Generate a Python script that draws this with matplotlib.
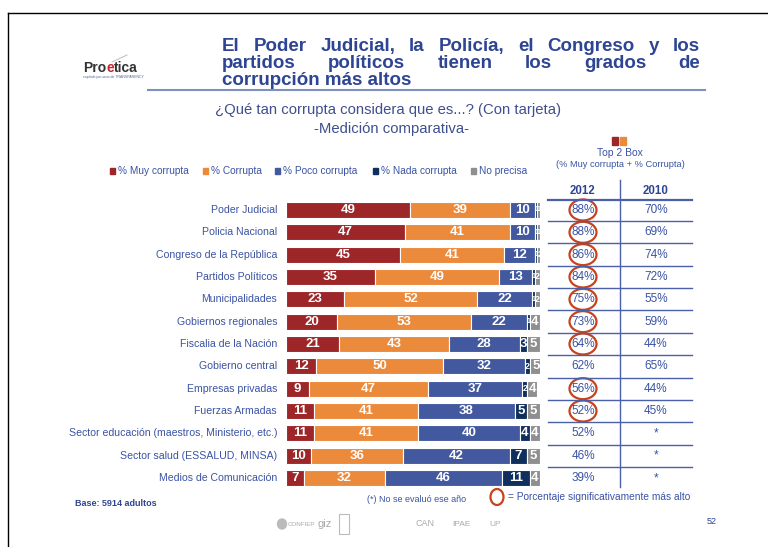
import matplotlib.pyplot as plt
from matplotlib.patches import Ellipse, Rectangle
import numpy as np

plt.rcParams['font.family'] = ['Liberation Sans', 'DejaVu Sans']

# data
categories = ["Poder Judicial", "Policia Nacional", "Congreso de la República",
              "Partidos Políticos", "Municipalidades", "Gobiernos regionales",
              "Fiscalia de la Nación", "Gobierno central", "Empresas privadas",
              "Fuerzas Armadas", "Sector educación (maestros, Ministerio, etc.)",
              "Sector salud (ESSALUD, MINSA)", "Medios de Comunicación"]
muy_corrupta = [49, 47, 45, 35, 23, 20, 21, 12, 9, 11, 11, 10, 7]
corrupta = [39, 41, 41, 49, 52, 53, 43, 50, 47, 41, 41, 36, 32]
poco_corrupta = [10, 10, 12, 13, 22, 22, 28, 32, 37, 38, 40, 42, 46]
nada_corrupta = [1, 1, 1, 1, 1, 1, 3, 2, 2, 5, 4, 7, 11]
no_precisa = [1, 1, 2, 2, 2, 4, 5, 5, 4, 5, 4, 5, 4]
top2_2012 = ["88%", "88%", "86%", "84%", "75%", "73%", "64%", "62%", "56%", "52%", "52%", "46%", "39%"]
top2_2010 = ["70%", "69%", "74%", "72%", "55%", "59%", "44%", "65%", "44%", "45%", "*", "*", "*"]
significant = [True, True, True, True, True, True, True, False, True, True, False, False, False]
series_names = ["% Muy corrupta", "% Corrupta", "% Poco corrupta", "% Nada corrupta", "No precisa"]
colors = ["#9C2628", "#EC8A3B", "#43599F", "#0F2F5C", "#8F8F8F"]

blue_txt = "#3A53A4"
title_col = "#2E4593"
line_col = "#4A60A8"
circ_col = "#C8421C"

W, H = 768, 547
fig = plt.figure(figsize=(W / 100, H / 100), dpi=100)
renderer = fig.canvas.get_renderer()

def fx(x):
    return x / W

def fy(y):
    return 1 - y / H

# slide frame
fig.add_artist(plt.Line2D([fx(8), 1], [fy(13), fy(13)], color="black", lw=1))
fig.add_artist(plt.Line2D([fx(8), fx(8)], [fy(13), 0], color="black", lw=1))

# logo
x = 83
for part, c in [("Pro", "#333333"), ("e", "#C8252C"), ("tica", "#333333")]:
    t = fig.text(fx(x), fy(68), part, fontsize=10, fontweight="bold", color=c, va="center")
    x += t.get_window_extent(renderer).width
fig.text(fx(83), fy(77), "capítulo peruano de TRANSPARENCY", fontsize=2.5, color="#5566AA", va="center")
fig.add_artist(plt.Line2D([fx(112), fx(127)], [fy(62), fy(55)], color="#BBBBBB", lw=0.7))

# title, first two lines justified
def justified(words, x0, x1, y, fs):
    objs = [fig.text(fx(x0), fy(y), w, fontsize=fs, fontweight="bold", color=title_col, va="baseline")
            for w in words]
    widths = [o.get_window_extent(renderer).width for o in objs]
    gap = (x1 - x0 - sum(widths)) / (len(words) - 1)
    xx = x0
    for o, wd in zip(objs, widths):
        o.set_x(fx(xx))
        xx += wd + gap

tfs = 13.5
justified("El Poder Judicial, la Policía, el Congreso y los".split(), 222, 700, 51, tfs)
justified("partidos políticos tienen los grados de".split(), 222, 700, 68, tfs)
fig.text(fx(222), fy(85), "corrupción más altos", fontsize=tfs, fontweight="bold", color=title_col, va="baseline")
fig.add_artist(plt.Line2D([fx(148), fx(705)], [fy(89.5), fy(89.5)], color="#7F8FBF", lw=1.5))

fig.text(fx(388), fy(110), "¿Qué tan corrupta considera que es...? (Con tarjeta)", fontsize=10.7,
         color="#3F4F8F", ha="center", va="center")
fig.text(fx(391), fy(129), "-Medición comparativa-", fontsize=10.7, color="#3F4F8F",
         ha="center", va="center")

# legend
leg_x = [113, 206, 278, 376, 474]
for name, c, x in zip(series_names, colors, leg_x):
    fig.add_artist(Rectangle((fx(x - 3), fy(174)), 5 / W, 6 / H, color=c))
    fig.text(fx(x + 5), fy(171), name, fontsize=7.3, color=blue_txt, va="center")

# top 2 box header
fig.add_artist(Rectangle((fx(612), fy(145)), 6 / W, 8 / H, color=colors[0]))
fig.add_artist(Rectangle((fx(620), fy(145)), 6 / W, 8 / H, color=colors[1]))
fig.text(fx(620), fy(153), "Top 2 Box", fontsize=7.5, color=blue_txt, ha="center", va="center")
fig.text(fx(620), fy(165), "(% Muy corrupta + % Corrupta)", fontsize=6.7, color=blue_txt,
         ha="center", va="center")

# stacked bars
n = len(categories)
ax = fig.add_axes([fx(286), fy(489.2), 254 / W, 290.4 / H])
ypos = np.arange(n)
data = [muy_corrupta, corrupta, poco_corrupta, nada_corrupta, no_precisa]
left = np.zeros(n)
for vals, c in zip(data, colors):
    vals = np.array(vals)
    ax.barh(ypos, vals, left=left, height=0.72, color=c, edgecolor="white", linewidth=0.8)
    for yi, (l, v) in enumerate(zip(left, vals)):
        if v >= 3:
            fs = 9.5
        elif v == 2:
            fs = 6.5
        else:
            fs = 5
        ax.text(l + v / 2, yi, str(v), ha="center", va="center", color="white",
                fontsize=fs, fontweight="bold", clip_on=False)
    left += vals
ax.set_xlim(0, 100)
ax.set_ylim(n - 0.5, -0.5)
ax.axis("off")
for yi, cat in enumerate(categories):
    ax.text(-3.5, yi, cat, ha="right", va="center", fontsize=7.6, color=blue_txt)

# table on the right
tx = fig.add_axes([fx(548), fy(489.2), 144 / W, 290.4 / H])
tx.set_xlim(0, 144)
tx.set_ylim(n - 0.5, -0.5)
tx.axis("off")
tx.text(35, -0.85, "2012", ha="center", va="center", fontsize=8.3, fontweight="bold",
        color=title_col, clip_on=False)
tx.text(108, -0.85, "2010", ha="center", va="center", fontsize=8.3, fontweight="bold",
        color=title_col, clip_on=False)
tx.plot([72, 72], [-1.35, n - 0.6], color=line_col, lw=1, clip_on=False)
tx.plot([0, 144], [-0.45, -0.45], color=line_col, lw=1.6, clip_on=False)
for i in range(n - 1):
    tx.plot([0, 144], [i + 0.5, i + 0.5], color=line_col, lw=1, clip_on=False)
for i in range(n):
    tx.text(35, i, top2_2012[i], ha="center", va="center", fontsize=8.5, color=blue_txt)
    tx.text(108, i, top2_2010[i], ha="center", va="center", fontsize=8.5, color=blue_txt)
    if significant[i]:
        tx.add_patch(Ellipse((35, i), 27, 21 / 22.33, fill=False, edgecolor=circ_col,
                             lw=1.6, clip_on=False))

# footer
fig.text(fx(75), fy(503), "Base: 5914 adultos", fontsize=6.5, fontweight="bold", color=title_col, va="center")
fig.text(fx(417), fy(500), "(*) No se evaluó ese año", fontsize=6.5, color=blue_txt, ha="center", va="center")
fig.add_artist(Ellipse((fx(497), fy(497)), 13 / W, 16 / H, fill=False, edgecolor=circ_col, lw=1.6))
fig.text(fx(508), fy(497), "= Porcentaje significativamente más alto", fontsize=7.3, color=blue_txt, va="center")
fig.text(fx(712), fy(521), "52", fontsize=6.5, color=title_col, ha="center", va="center")

# sponsor logos (faint)
fig.add_artist(Ellipse((fx(282), fy(524)), 9 / W, 10 / H, color="#BBBBBB"))
for name, x, fs in [("CONFIEP", 288, 4.5), ("giz", 318, 8), ("CAN", 416, 6.5), ("IPAE", 452, 6), ("UP", 489, 6)]:
    fig.text(fx(x), fy(524), name, fontsize=fs, color="#AAAAAA", va="center")
fig.add_artist(Rectangle((fx(339), fy(534)), 10 / W, 20 / H, fill=False, edgecolor="#BBBBBB", lw=0.8))

fig.savefig("out.png", dpi=100)
